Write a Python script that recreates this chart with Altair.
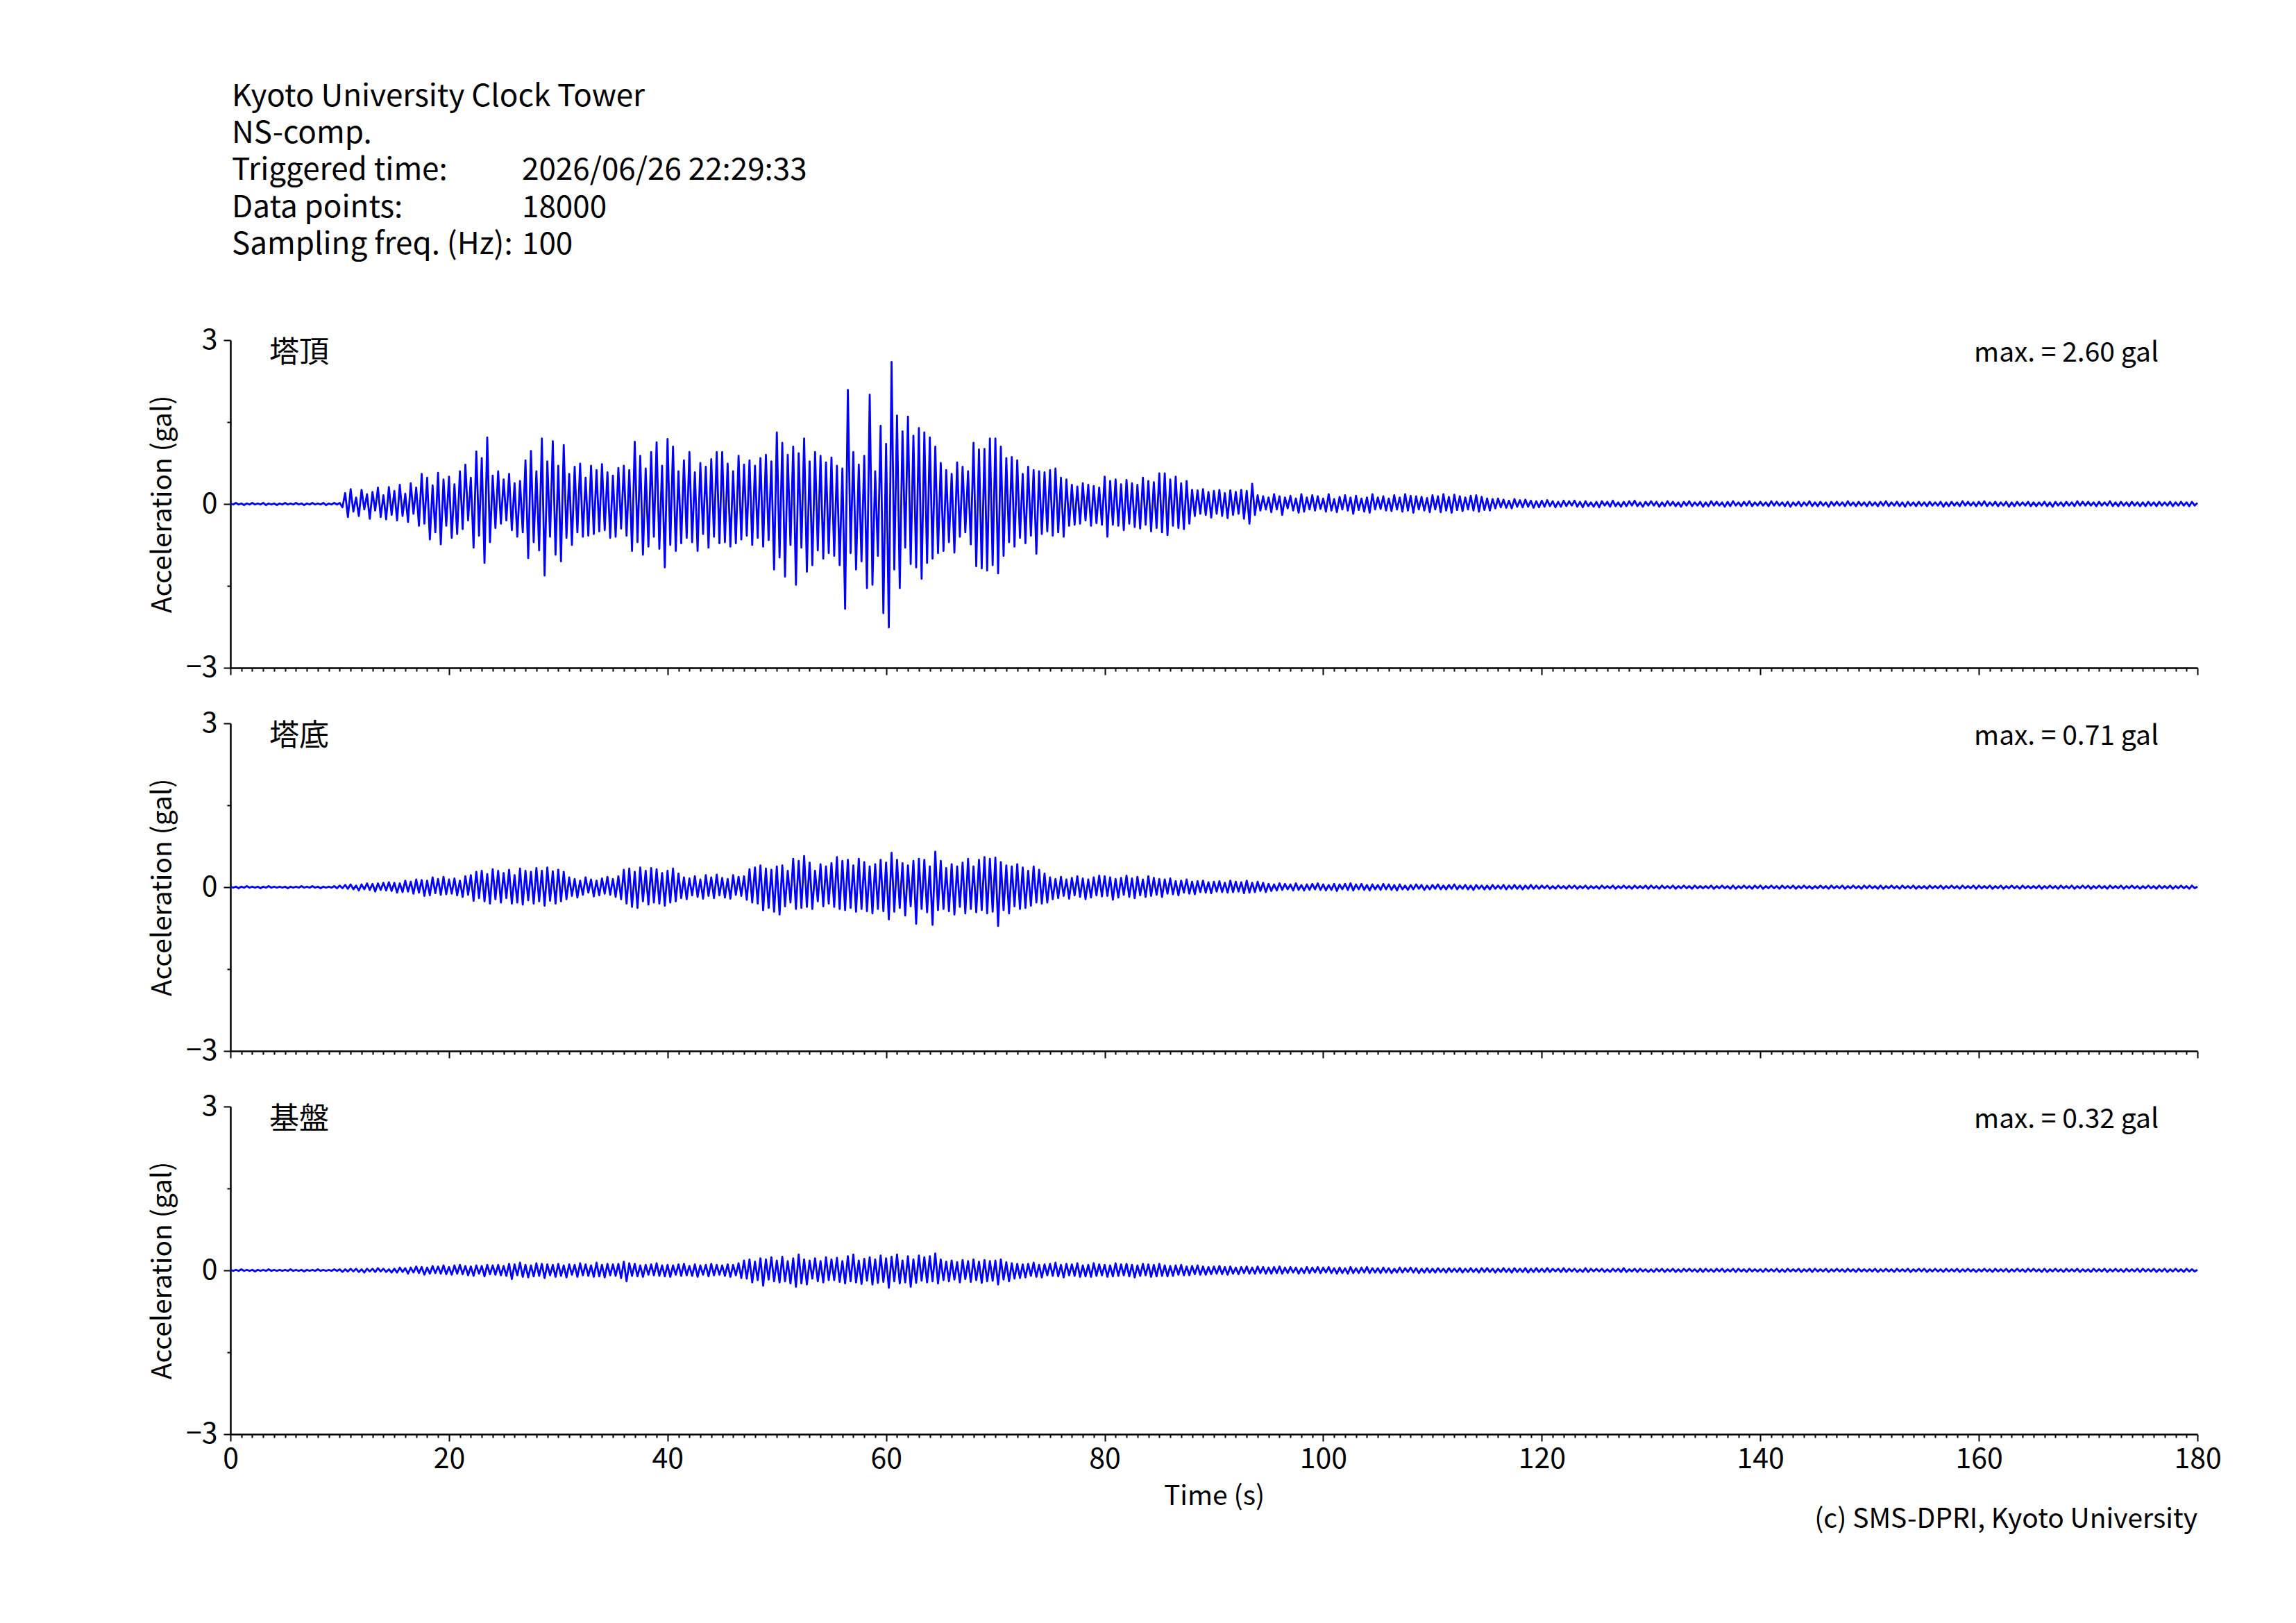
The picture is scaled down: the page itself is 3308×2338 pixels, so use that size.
import altair as alt
import pandas as pd

# ---------------- data (in 0.01 gal, every 0.25 s) ----------------
DT = 0.25
SCALE = 0.01

top_vals = [
    1,-1,2,-1,1,-2,1,-1,2,-1,1,-1,2,-2,1,-1,1,-2,1,-1,
    2,-1,1,-1,2,-1,1,-2,1,-1,2,-1,1,-1,2,-2,1,-1,2,-1,
    2,-6,20,-24,27,-14,12,-22,26,-10,18,-27,22,-12,30,-24,16,-28,31,-20,
    24,-30,35,-22,19,-33,38,-18,30,-40,55,-36,48,-65,34,-52,57,-74,45,-40,
    50,-62,36,-55,60,-46,72,-30,48,-80,96,-58,84,-108,122,-70,52,-44,60,-36,
    45,-30,55,-48,38,-60,42,-52,80,-99,97,-70,60,-85,120,-131,78,-60,115,-93,
    70,-105,108,-62,55,-75,68,-52,74,-60,48,-58,70,-55,62,-50,73,-48,58,-62,
    52,-60,66,-45,70,-58,62,-86,114,-70,88,-93,65,-78,95,-60,113,-82,70,-116,
    119,-75,105,-86,60,-72,80,-62,95,-70,58,-86,75,-55,68,-80,82,-60,95,-72,
    95,-70,74,-78,60,-72,88,-65,72,-58,80,-75,70,-62,84,-78,90,-66,78,-120,
    131,-98,112,-133,90,-75,105,-148,93,-80,120,-124,78,-112,95,-85,88,-100,76,-90,
    85,-95,70,-112,65,-192,209,-90,95,-120,72,-105,88,-154,200,-148,60,-95,143,-200,
    110,-226,260,-120,162,-154,133,-80,160,-110,125,-116,139,-137,131,-108,122,-100,105,-90,
    75,-86,62,-70,55,-89,76,-60,68,-52,60,-74,112,-114,100,-118,101,-122,120,-112,
    120,-127,105,-95,84,-70,86,-78,80,-62,55,-72,68,-58,62,-91,60,-55,58,-50,
    62,-58,65,-52,48,-60,45,-40,35,-38,32,-36,38,-30,35,-40,33,-35,30,-38,
    50,-60,42,-38,45,-40,36,-48,44,-36,38,-42,35,-45,48,-38,42,-50,40,-44,
    56,-52,56,-57,45,-40,50,-44,38,-46,42,-36,26,-22,25,-18,27,-20,22,-25,
    24,-18,26,-22,20,-26,25,-20,22,-18,26,-27,24,-36,37,-20,16,-12,14,-10,
    12,-15,18,-10,14,-20,12,-8,15,-12,10,-16,18,-14,12,-10,16,-12,14,-9,
    10,-14,18,-12,9,-15,13,-10,16,-12,12,-18,15,-11,10,-14,12,-16,18,-10,
    12,-9,14,-12,10,-13,16,-10,12,-14,18,-12,15,-16,14,-10,13,-12,11,-15,
    16,-10,14,-15,18,-12,13,-16,17,-11,14,-13,12,-10,15,-12,16,-14,13,-11,
    10,-12,9,-8,10,-6,8,-7,6,-8,9,-5,7,-6,8,-5,6,-7,5,-6,
    6,-5,7,-4,5,-6,4,-5,6,-4,5,-3,6,-5,4,-6,5,-4,3,-5,
    4,-6,5,-3,4,-5,6,-4,3,-5,4,-4,5,-3,6,-4,3,-5,4,-3,
    5,-3,4,-5,3,-4,5,-3,4,-4,3,-5,4,-3,5,-4,3,-3,4,-5,
    3,-4,5,-3,4,-3,3,-5,4,-4,5,-3,3,-4,4,-3,5,-4,3,-3,
    4,-3,3,-4,5,-3,4,-3,3,-4,4,-5,3,-3,4,-4,3,-3,5,-4,
    3,-4,4,-3,3,-5,4,-3,4,-3,3,-4,5,-3,3,-4,4,-3,3,-4,
    4,-3,3,-4,4,-3,5,-4,3,-3,4,-4,3,-5,4,-3,3,-4,4,-3,
    3,-4,4,-3,3,-3,4,-5,3,-4,4,-3,3,-4,5,-3,4,-3,3,-4,
    4,-3,5,-4,3,-3,4,-4,3,-3,4,-5,3,-4,4,-3,3,-3,4,-4,
    3,-4,3,-3,4,-4,3,-5,4,-3,3,-4,4,-3,3,-4,5,-3,4,-3,
    4,-3,3,-4,4,-3,3,-3,5,-4,3,-4,4,-3,3,-4,4,-3,3,-4,
    3,-4,4,-3,3,-4,4,-3,3,-3,4,-4,3,-3,4,-3,3,-4,4,-3,
    2,
]

mid_vals = [
    1,-1,1,-2,1,-1,2,-1,1,-1,1,-2,1,-1,2,-1,1,-1,1,-1,
    1,-2,1,-1,1,-1,2,-1,1,-1,2,-1,1,-2,1,-1,1,-1,2,-2,
    3,-2,4,-3,5,-4,3,-6,5,-4,7,-5,6,-8,7,-5,8,-6,9,-7,
    8,-10,7,-9,12,-8,10,-12,14,-10,13,-16,12,-15,18,-11,15,-14,19,-13,
    14,-12,16,-15,12,-18,20,-14,22,-25,28,-20,30,-26,24,-30,33,-22,30,-28,
    26,-20,32,-30,22,-28,34,-32,30,-24,28,-30,35,-26,30,-34,36,-25,29,-30,
    32,-26,28,-22,18,-16,15,-19,12,-14,18,-10,14,-17,12,-15,16,-12,19,-14,
    15,-18,20,-22,32,-30,34,-36,28,-38,36,-26,30,-32,35,-28,33,-30,26,-34,
    30,-28,34,-26,25,-20,18,-22,16,-15,20,-18,14,-21,22,-16,18,-20,23,-15,
    17,-19,15,-21,22,-14,19,-16,20,-23,33,-28,36,-30,40,-42,34,-38,32,-45,
    38,-50,40,-35,30,-28,52,-40,48,-38,57,-36,45,-40,30,-26,42,-35,38,-30,
    44,-36,55,-40,48,-42,50,-38,40,-45,52,-40,46,-44,38,-48,42,-40,50,-44,
    45,-59,63,-45,50,-38,44,-52,40,-35,48,-67,52,-40,50,-46,38,-69,65,-42,
    48,-40,35,-44,42,-50,38,-36,45,-48,52,-40,38,-46,50,-42,55,-48,52,-45,
    54,-71,46,-42,40,-48,38,-35,42,-40,36,-38,30,-34,38,-28,32,-30,25,-28,
    18,-22,15,-20,19,-16,14,-21,17,-15,20,-18,16,-22,14,-19,18,-15,21,-17,
    20,-16,18,-23,15,-19,17,-14,21,-18,16,-20,19,-15,14,-18,20,-16,17,-14,
    15,-18,14,-12,16,-13,11,-15,12,-10,14,-12,10,-13,11,-9,12,-10,9,-11,
    10,-8,11,-9,8,-10,12,-9,10,-8,9,-11,12,-10,8,-9,10,-7,8,-9,
    6,-7,5,-6,7,-5,6,-4,5,-6,7,-5,4,-6,5,-5,6,-4,7,-5,
    5,-6,4,-5,6,-7,5,-4,6,-5,7,-6,5,-4,6,-5,4,-6,5,-4,
    4,-5,6,-4,5,-5,4,-6,5,-4,3,-5,4,-4,5,-3,4,-5,3,-4,
    4,-3,5,-4,3,-4,4,-3,5,-4,3,-3,4,-4,3,-5,4,-3,3,-4,
    3,-4,4,-3,3,-3,4,-4,3,-3,4,-3,3,-4,3,-3,4,-3,3,-3,
    3,-2,3,-3,2,-3,3,-2,2,-3,3,-2,3,-3,2,-2,3,-3,2,-2,
    2,-3,3,-2,2,-2,3,-3,2,-2,3,-2,2,-3,3,-2,2,-2,3,-3,
    3,-2,2,-3,3,-2,2,-2,3,-3,2,-2,3,-2,2,-3,3,-2,2,-2,
    2,-2,3,-3,2,-2,3,-2,2,-3,3,-3,2,-2,3,-2,2,-3,3,-2,
    3,-3,2,-2,3,-2,2,-3,3,-2,2,-2,3,-3,2,-2,3,-2,2,-3,
    2,-2,3,-2,2,-3,3,-2,2,-2,3,-3,2,-2,3,-2,2,-3,3,-2,
    3,-2,2,-3,3,-3,2,-2,3,-2,2,-3,3,-2,2,-2,3,-3,2,-2,
    2,-3,3,-2,2,-2,3,-3,2,-2,3,-2,2,-3,3,-2,2,-2,3,-3,
    3,-2,2,-2,3,-3,2,-2,3,-3,2,-2,3,-2,2,-3,3,-2,2,-2,
    2,-2,3,-3,2,-2,3,-2,2,-3,3,-2,2,-2,3,-3,2,-2,3,-2,
    3,-3,2,-2,3,-2,2,-3,3,-2,2,-2,3,-3,2,-2,3,-2,2,-3,
    2,-2,3,-2,2,-3,3,-2,2,-2,3,-3,2,-2,3,-2,2,-3,3,-2,
    1,
]

base_vals = [
    1,-1,1,-1,2,-1,1,-1,1,-2,1,-1,1,-1,2,-1,1,-1,1,-1,
    1,-1,2,-1,1,-1,1,-2,1,-1,1,-1,2,-1,1,-1,1,-1,2,-1,
    2,-3,2,-2,3,-2,3,-3,2,-4,3,-2,3,-3,4,-2,3,-3,2,-4,
    3,-4,5,-3,4,-6,5,-4,7,-5,6,-8,5,-6,8,-5,7,-6,9,-7,
    6,-8,9,-6,10,-7,8,-9,7,-10,9,-6,8,-11,10,-7,9,-8,10,-9,
    8,-10,12,-16,11,-9,14,-12,10,-13,9,-11,13,-10,12,-14,11,-9,10,-12,
    12,-10,9,-13,11,-8,10,-12,13,-9,11,-10,9,-12,14,-11,10,-13,12,-9,
    11,-10,12,-14,16,-20,13,-10,12,-11,9,-12,10,-8,11,-9,13,-10,9,-11,
    10,-12,9,-8,11,-10,12,-9,8,-10,11,-12,9,-8,10,-11,12,-9,10,-8,
    9,-10,11,-12,10,-9,13,-14,18,-15,20,-22,16,-18,22,-28,20,-17,24,-20,
    18,-22,25,-20,17,-24,22,-30,29,-24,20,-26,18,-15,22,-20,17,-22,24,-18,
    20,-18,23,-21,17,-24,26,-20,29,-22,18,-25,21,-19,24,-26,20,-23,27,-21,
    22,-32,25,-20,29,-24,18,-22,26,-30,20,-23,27,-19,24,-22,26,-20,31,-24,
    20,-18,16,-20,18,-17,15,-22,19,-16,17,-21,20,-18,16,-23,19,-20,17,-19,
    18,-26,20,-17,15,-20,13,-15,12,-14,11,-13,12,-10,14,-12,10,-13,11,-9,
    12,-10,14,-11,10,-13,12,-9,11,-10,13,-12,9,-11,10,-12,13,-10,11,-9,
    10,-12,9,-11,13,-10,11,-9,12,-11,10,-13,9,-10,12,-9,11,-12,10,-11,
    12,-10,9,-11,8,-10,9,-8,10,-9,7,-9,8,-7,9,-8,7,-8,6,-7,
    7,-6,8,-7,6,-8,7,-6,5,-7,6,-5,7,-6,5,-6,7,-5,6,-6,
    5,-6,6,-5,7,-6,5,-5,6,-4,5,-6,4,-5,6,-5,5,-4,6,-5,
    5,-4,6,-5,4,-6,5,-5,4,-6,6,-5,4,-5,5,-4,6,-5,4,-4,
    4,-5,5,-4,4,-5,3,-4,5,-4,4,-3,5,-4,4,-5,3,-4,4,-4,
    3,-4,4,-3,3,-4,4,-3,3,-3,4,-4,3,-3,4,-3,3,-4,4,-3,
    4,-3,3,-4,3,-3,4,-3,3,-4,4,-3,3,-3,4,-4,3,-3,4,-3,
    3,-3,4,-3,3,-2,3,-3,4,-3,3,-2,3,-3,2,-3,4,-3,3,-2,
    3,-2,3,-3,2,-3,3,-2,3,-3,4,-3,2,-2,3,-3,3,-2,2,-3,
    2,-3,3,-2,3,-3,2,-2,3,-3,2,-3,3,-2,3,-2,2,-3,3,-3,
    3,-2,2,-3,3,-2,3,-3,2,-2,3,-3,3,-2,2,-3,3,-2,2,-2,
    2,-3,3,-2,2,-2,3,-3,2,-3,3,-2,2,-2,3,-3,2,-2,3,-3,
    3,-2,2,-2,3,-3,2,-2,3,-2,2,-3,3,-2,2,-3,3,-2,2,-2,
    2,-2,3,-3,2,-2,3,-2,2,-3,3,-2,2,-2,3,-3,2,-2,3,-2,
    3,-3,2,-2,3,-2,2,-3,3,-2,2,-2,3,-3,2,-2,3,-2,2,-3,
    2,-2,3,-2,2,-3,3,-2,2,-2,3,-3,2,-2,3,-2,2,-3,3,-2,
    3,-2,2,-3,3,-3,2,-2,3,-2,2,-3,3,-2,2,-2,3,-3,2,-2,
    2,-3,3,-2,2,-2,3,-3,2,-2,3,-2,2,-3,3,-2,2,-2,3,-3,
    3,-2,2,-2,3,-3,2,-2,3,-3,2,-2,3,-2,2,-3,3,-2,2,-2,
    1,
]

traces = [top_vals, mid_vals, base_vals]
panel_names = ["塔頂", "塔底", "基盤"]
max_labels = ["max. = 2.60 gal", "max. = 0.71 gal", "max. = 0.32 gal"]

header_left = ["Kyoto University Clock Tower", "NS-comp.", "Triggered time:",
               "Data points:", "Sampling freq. (Hz):"]
header_right = ["", "", "2026/06/26 22:29:33", "18000", "100"]

x_ticks = list(range(0, 181))
y_ticks = [-3, -1.5, 0, 1.5, 3]
x_title = "Time (s)"
y_title = "Acceleration (gal)"
credit = "(c) SMS-DPRI, Kyoto University"

# ---------------- layout / style ----------------
FONT = "Noto Sans CJK JP"
W, H = 2834, 472
BLUE = "#0000ff"
HEADER_Y = [-350, -297, -244, -190, -137]


def text_layer(txt, x, y, size, align="left"):
    return alt.Chart(pd.DataFrame({"label": [txt]})).mark_text(
        align=align, baseline="middle", font=FONT, fontSize=size, color="black"
    ).encode(x=alt.value(x), y=alt.value(y), text="label:N")


def panel(i):
    vals = traces[i]
    df = pd.DataFrame({"t": [k * DT for k in range(len(vals))],
                       "a": [v * SCALE for v in vals]})
    last = i == len(traces) - 1
    x_axis = alt.Axis(
        values=x_ticks,
        labels=last,
        labelExpr="datum.value % 20 == 0 ? datum.label : ''",
        labelOverlap=False,
        labelFlush=False,
        format="d",
        labelFontSize=41,
        labelPadding=6,
        title=x_title if last else None,
        titleFontSize=39,
        titleFontWeight="normal",
        titleY=89,
        titleBaseline="middle",
        tickSize={"condition": {"test": "datum.value % 20 == 0", "value": 10}, "value": 5},
        tickWidth=2,
        domainWidth=2.5,
        grid=False,
    )
    y_axis = alt.Axis(
        values=y_ticks,
        format="d",
        labelExpr="datum.value % 3 == 0 ? datum.label : ''",
        labelFlush=False,
        labelFontSize=41,
        labelPadding=9,
        title=y_title,
        titleFontSize=39,
        titleFontWeight="normal",
        titleAngle=270,
        titleX=-98,
        titleY=H / 2,
        titleAlign="center",
        titleBaseline="middle",
        tickSize={"condition": {"test": "datum.value % 3 == 0", "value": 10}, "value": 5},
        tickWidth=2,
        domainWidth=2.5,
        grid=False,
    )
    line = alt.Chart(df).mark_line(
        color=BLUE, strokeWidth=2.8, strokeJoin="round"
    ).encode(
        x=alt.X("t:Q", scale=alt.Scale(domain=[0, 180], nice=False, zero=False), axis=x_axis),
        y=alt.Y("a:Q", scale=alt.Scale(domain=[-3, 3], nice=False), axis=y_axis),
    )
    layers = [line,
              text_layer(panel_names[i], 56, 19, 43),
              text_layer(max_labels[i], 2778, 19, 39, align="right")]
    if i == 0:
        for k, (l, r) in enumerate(zip(header_left, header_right)):
            layers.append(text_layer(l, 2, HEADER_Y[k], 44))
            if r:
                layers.append(text_layer(r, 420, HEADER_Y[k], 44))
    if last:
        layers.append(text_layer(credit, W, H + 123, 39, align="right"))
    return alt.layer(*layers).properties(width=W, height=H)


chart = alt.vconcat(panel(0), panel(1), panel(2), spacing=80, bounds="flush").properties(
    padding={"left": 207, "top": 110, "right": 20, "bottom": 20},
    background="white",
).configure_view(stroke=None).configure_axis(
    domainColor="black", tickColor="black", labelColor="black", titleColor="black",
    labelFont=FONT, titleFont=FONT,
)

chart.save("out.html", embed_options={"renderer": "svg", "actions": False})
